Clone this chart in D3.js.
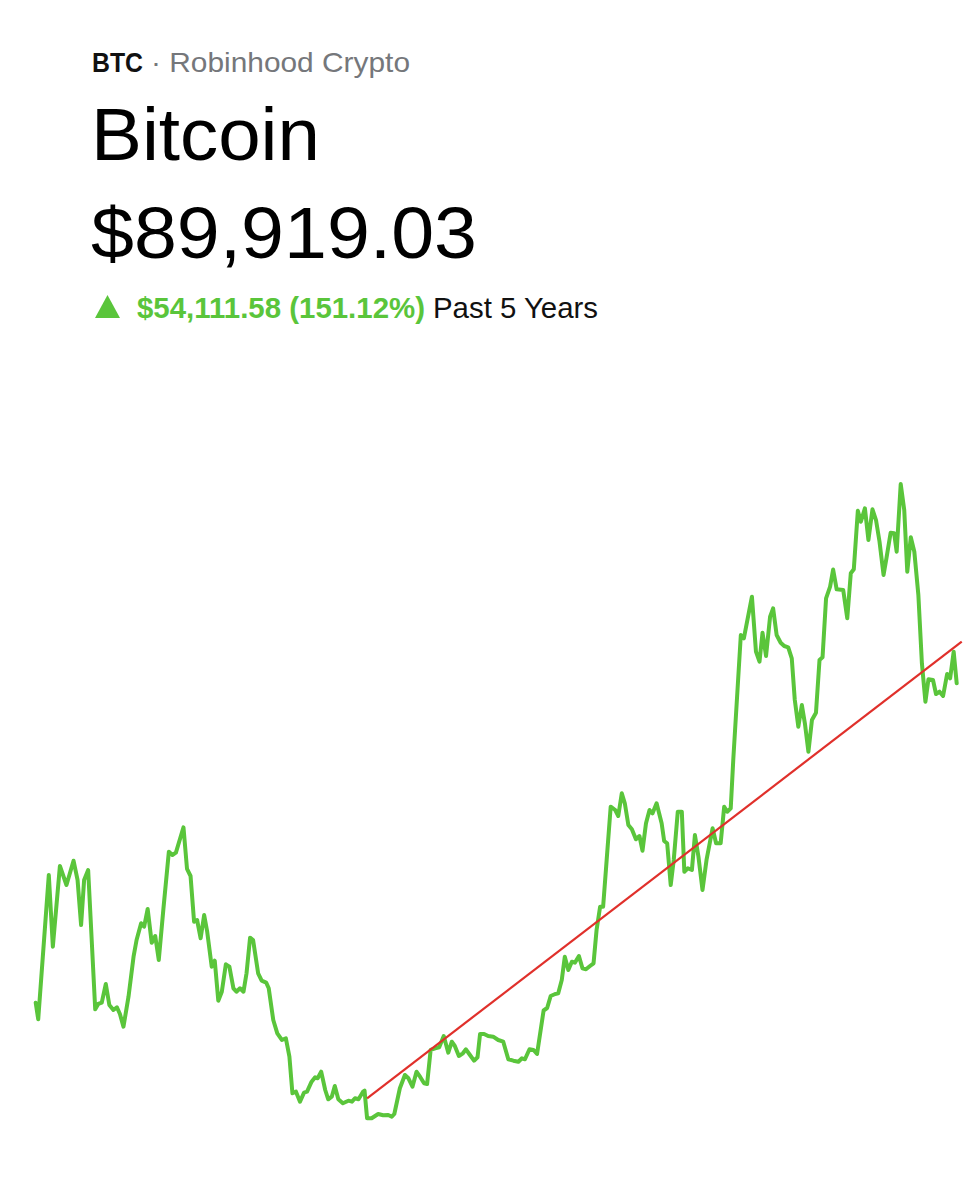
<!DOCTYPE html>
<html>
<head>
<meta charset="utf-8">
<script src="https://cdn.jsdelivr.net/npm/d3@7"></script>
<style>
  body { margin: 0; background: #fff; }
  text { font-family: "Liberation Sans", Arial, sans-serif; }
</style>
</head>
<body>
<script>
// days since start of the 5 year window, and BTC price in USD
var days = [0, 5, 26, 34, 48, 61, 75, 83, 90, 96, 104, 118, 124, 131, 139, 146, 154, 161, 167, 174,
  184, 194, 200, 209, 215, 222, 230, 237, 244, 253, 264, 271, 278, 293, 300, 307, 314, 320, 327, 334,
  340, 349, 355, 362, 369, 377, 384, 392, 398, 405, 412, 418, 425, 431, 441, 448, 457, 462, 471, 479,
  488, 496, 503, 509, 516, 524, 532, 538, 547, 554, 559, 566, 574, 580, 587, 593, 600, 609, 620, 627,
  633, 640, 649, 652, 657, 666, 679, 689, 699, 706, 711, 722, 732, 739, 747, 755, 762, 770, 776, 783,
  792, 800, 809, 818, 825, 831, 839, 847, 853, 861, 869, 876, 881, 889, 897, 907, 917, 927, 937, 947,
  957, 964, 970, 979, 987, 994, 1007, 1014, 1021, 1030, 1036, 1043, 1049, 1056, 1063, 1069, 1077, 1084, 1091, 1099,
  1106, 1112, 1119, 1125, 1132, 1140, 1149, 1155, 1162, 1168, 1175, 1182, 1190, 1197, 1203, 1210, 1217, 1223, 1231, 1241,
  1246, 1252, 1259, 1265, 1273, 1281, 1286, 1293, 1301, 1307, 1314, 1322, 1330, 1342, 1349, 1358, 1365, 1371, 1378, 1383,
  1398, 1404, 1420, 1428, 1435, 1441, 1448, 1456, 1462, 1469, 1477, 1484, 1492, 1499, 1505, 1512, 1519, 1525, 1532, 1539,
  1547, 1554, 1560, 1567, 1575, 1581, 1588, 1601, 1609, 1616, 1622, 1630, 1636, 1644, 1651, 1659, 1666, 1673, 1681, 1687,
  1695, 1702, 1707, 1715, 1722, 1728, 1735, 1742, 1750, 1757, 1764, 1770, 1779, 1785, 1792, 1799, 1807, 1813, 1820, 1826];

var prices = [35807, 33001, 57445, 45299, 58970, 55751, 59867, 56598, 48975, 56598, 58292, 34695, 35592, 35813, 38980, 35423, 34576, 35033, 33898, 31747,
  36829, 43605, 46434, 49263, 48687, 51685, 45977, 47112, 43046, 51516, 61392, 60833, 61223, 65525, 58495, 57276, 49534, 49822, 46722, 50669,
  47840, 41911, 42927, 36151, 37676, 42318, 41911, 38252, 37676, 38252, 37676, 40793, 46824, 46434, 40793, 39539, 39201, 38252, 32882, 30629,
  29494, 29782, 26665, 20465, 20736, 19042, 20567, 20736, 22430, 23175, 23006, 24124, 21024, 19449, 19889, 21702, 19449, 18771, 19211, 19042,
  19618, 19449, 20736, 20905, 16230, 16230, 16958, 16738, 16789, 16501, 16958, 21312, 23565, 23006, 21583, 24124, 23277, 22159, 22040, 27800,
  28088, 28257, 30172, 27343, 29206, 28478, 26784, 27241, 27919, 26953, 25987, 26563, 30510, 30510, 30172, 30053, 29494, 29206, 26225, 25987,
  25818, 26394, 26225, 27919, 27800, 27122, 34491, 34915, 36948, 37286, 37405, 39658, 43605, 41352, 42758, 42589, 43724, 41640, 41471, 42030,
  42487, 48128, 52075, 52075, 59986, 69015, 68456, 67440, 71285, 69591, 65915, 65187, 63493, 64052, 61561, 66203, 68456, 67897, 69591, 66203,
  63205, 62815, 55751, 59986, 68168, 68168, 58004, 58580, 58292, 64221, 60545, 54904, 59986, 65356, 62815, 62815, 69015, 68168, 68744, 76926,
  98101, 97542, 104589, 95272, 93578, 98491, 94544, 101201, 102624, 98101, 96797, 96238, 96017, 94154, 87090, 82567, 86243, 83143, 78332, 83702,
  84939, 93866, 94323, 104318, 106283, 109197, 105843, 105724, 100930, 108553, 109231, 119157, 117294, 119564, 114194, 119395, 117582, 113906, 108265, 111263,
  115431, 115329, 112212, 123680, 119276, 108824, 114651, 112212, 104877, 93307, 86802, 90597, 90478, 88106, 88496, 87768, 91494, 90766, 95272, 89919];

// hand drawn trend line (start and end)
var trendDays = [657, 1836];
var trendPrices = [19618, 96966];

var ticker = "BTC";
var source = "· Robinhood Crypto";
var assetName = "Bitcoin";
var priceLabel = "$89,919.03";
var changeLabel = "$54,111.58 (151.12%)";
var periodLabel = "Past 5 Years";

var green = "#5ac53b";
var red = "#e0302b";

var width = 979, height = 1200;

var svg = d3.select("body").append("svg")
            .attr("width", width)
            .attr("height", height);

svg.append("rect")
   .attr("width", width)
   .attr("height", height)
   .attr("fill", "#fff");

var xScale = d3.scaleLinear()
               .domain([0, 1826])
               .range([35.7, 956.7]);

var yScale = d3.scaleLinear()
               .domain([0, 130000])
               .range([1214.1, 446.7]);

// header
svg.append("text")
   .attr("x", 92)
   .attr("y", 72)
   .attr("font-size", 27)
   .attr("font-weight", "bold")
   .attr("fill", "#111")
   .attr("textLength", 51)
   .attr("lengthAdjust", "spacingAndGlyphs")
   .text(ticker);

svg.append("text")
   .attr("x", 151)
   .attr("y", 72)
   .attr("font-size", 28)
   .attr("fill", "#75777b")
   .attr("textLength", 259)
   .attr("lengthAdjust", "spacingAndGlyphs")
   .text(source);

svg.append("text")
   .attr("x", 91)
   .attr("y", 160)
   .attr("font-size", 74)
   .attr("fill", "#000")
   .attr("textLength", 229)
   .attr("lengthAdjust", "spacingAndGlyphs")
   .text(assetName);

svg.append("text")
   .attr("x", 91)
   .attr("y", 258)
   .attr("font-size", 72)
   .attr("fill", "#000")
   .attr("textLength", 386)
   .attr("lengthAdjust", "spacingAndGlyphs")
   .text(priceLabel);

svg.append("path")
   .attr("d", "M95,318 L107.5,295 L120,318 Z")
   .attr("fill", green);

svg.append("text")
   .attr("x", 137)
   .attr("y", 318)
   .attr("font-size", 29)
   .attr("font-weight", "bold")
   .attr("fill", green)
   .attr("textLength", 288)
   .attr("lengthAdjust", "spacingAndGlyphs")
   .text(changeLabel);

svg.append("text")
   .attr("x", 433)
   .attr("y", 318)
   .attr("font-size", 29)
   .attr("fill", "#111")
   .attr("textLength", 165)
   .attr("lengthAdjust", "spacingAndGlyphs")
   .text(periodLabel);

// price line
var line = d3.line()
             .x(function(d, i) { return xScale(days[i]); })
             .y(function(d) { return yScale(d); });

svg.append("path")
   .datum(prices)
   .attr("d", line)
   .attr("fill", "none")
   .attr("stroke", green)
   .attr("stroke-width", 4)
   .attr("stroke-linejoin", "round")
   .attr("stroke-linecap", "round");

svg.append("line")
   .attr("x1", xScale(trendDays[0]))
   .attr("y1", yScale(trendPrices[0]))
   .attr("x2", xScale(trendDays[1]))
   .attr("y2", yScale(trendPrices[1]))
   .attr("stroke", red)
   .attr("stroke-width", 2.2);
</script>
</body>
</html>
